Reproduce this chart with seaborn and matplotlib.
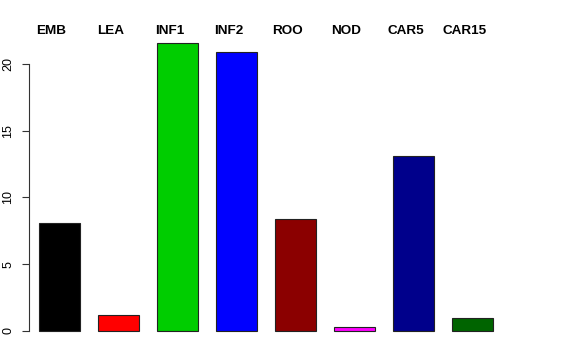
import matplotlib
matplotlib.use("Agg")
import matplotlib.pyplot as plt
import seaborn as sns
import pandas as pd

# data
tissues = ['EMB', 'LEA', 'INF1', 'INF2', 'ROO', 'NOD', 'CAR5', 'CAR15']
values = [8.07, 1.18, 21.55, 20.92, 8.37, 0.28, 13.13, 0.95]
bar_colors = ['#000000', '#FF0000', '#00CD00', '#0000FF', '#8B0000',
              '#FF00FF', '#00008B', '#006400']
yticks = [0, 5, 10, 15, 20]

sns.set_theme(style="white")
plt.rcParams['font.family'] = ['Liberation Sans', 'DejaVu Sans']
plt.rcParams['text.color'] = 'black'
plt.rcParams['ytick.color'] = 'black'
plt.rcParams['ytick.labelcolor'] = 'black'

df = pd.DataFrame({'tissue': tissues, 'value': values})

fig = plt.figure(figsize=(5.76, 3.6), dpi=100)
# plot region placed like R's default barplot margins
ax = fig.add_axes([29 / 576, (360 - 342.5) / 360, 474 / 576, 310.7 / 360])

sns.barplot(data=df, x='tissue', y='value', hue='tissue', order=tissues,
            palette=dict(zip(tissues, bar_colors)), legend=False,
            width=0.71, edgecolor='#222222', linewidth=0.8, saturation=1,
            ax=ax)

ymax = max(values)
ax.set_ylim(-0.04 * ymax, 1.04 * ymax)
ax.set_xlim(-0.517, len(tissues) - 1 + 0.517)

ax.set_yticks(yticks)
ax.set_yticklabels([str(t) for t in yticks], rotation=90, va='center',
                   fontsize=9, color='black')
ax.tick_params(axis='y', left=True, length=5, width=0.8, pad=5.5,
               color='#333333')
ax.tick_params(axis='x', bottom=False, labelbottom=False)
ax.set_xlabel('')
ax.set_ylabel('')

for side in ['top', 'right', 'bottom']:
    ax.spines[side].set_visible(False)
ax.spines['left'].set_bounds(yticks[0], yticks[-1])
ax.spines['left'].set_color('#333333')
ax.spines['left'].set_linewidth(0.8)

# bold tissue names along the top
for i, name in enumerate(tissues):
    ax.text(i - 0.135, 1.004, name, transform=ax.get_xaxis_transform(),
            ha='center', va='center', fontsize=9.7, fontweight='bold',
            color='black')

fig.savefig('out.png', dpi=100)
